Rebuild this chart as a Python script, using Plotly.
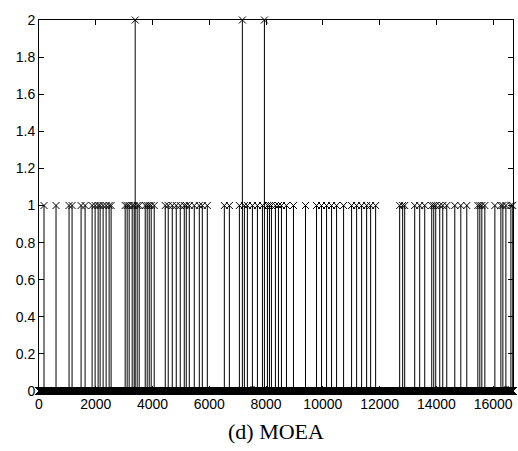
import numpy as np
import plotly.graph_objects as go

# Series length (number of samples)
n_samples = 16700

# Sample indices whose value is 1
ones_idx = [176, 600, 1059, 1165, 1483, 1624, 1871, 1977, 2083, 2153, 2259, 2365,
            2471, 2541, 3036, 3106, 3177, 3283, 3353, 3459, 3530, 3742, 3812, 3883,
            3953, 4059, 4448, 4553, 4695, 4836, 4977, 5118, 5189, 5295, 5471, 5648,
            5754, 5930, 6530, 6707, 7060, 7236, 7342, 7519, 7695, 7872, 8048, 8119,
            8189, 8330, 8436, 8542, 8719, 8966, 9389, 9778, 9954, 10131, 10307,
            10484, 10731, 11013, 11190, 11366, 11543, 11684, 11860, 12707, 12813,
            12884, 13237, 13413, 13590, 13837, 13907, 13978, 14119, 14225, 14366,
            14649, 14861, 15072, 15461, 15531, 15602, 15708, 16061, 16273, 16343,
            16449, 16626, 16690]
# Sample indices whose value is 2
twos_idx = [3389, 7166, 7942]

x_ticks = [0, 2000, 4000, 6000, 8000, 10000, 12000, 14000, 16000]
y_ticks = [0, 0.2, 0.4, 0.6, 0.8, 1, 1.2, 1.4, 1.6, 1.8, 2]
title_text = "(d) MOEA"

x = np.arange(1, n_samples + 1)
y = np.zeros(n_samples)
y[np.array(ones_idx) - 1] = 1
y[np.array(twos_idx) - 1] = 2

nz = np.nonzero(y)[0]
sx, sy = [], []
for i in nz:
    sx += [x[i], x[i], None]
    sy += [0, y[i], None]

fig = go.Figure()
fig.add_trace(go.Scatter(x=sx, y=sy, mode="lines",
                         line=dict(color="black", width=1),
                         hoverinfo="skip", showlegend=False))
fig.add_trace(go.Scatter(x=x, y=y, mode="markers",
                         marker=dict(symbol="x-thin", size=7,
                                     line=dict(color="black", width=1)),
                         cliponaxis=False, showlegend=False))

axis_common = dict(showline=True, linecolor="black", linewidth=1, mirror="ticks",
                   ticks="inside", ticklen=5, tickcolor="black", showgrid=False,
                   zeroline=False,
                   tickfont=dict(family="Liberation Sans, Arial", size=14, color="black"))
fig.update_xaxes(range=[0, n_samples], tickvals=x_ticks,
                 ticktext=[str(v) for v in x_ticks], **axis_common)
fig.update_yaxes(range=[0, 2], tickvals=y_ticks,
                 ticktext=[("%g" % v) for v in y_ticks], **axis_common)

fig.add_annotation(text=title_text, xref="paper", yref="paper", x=0.5, y=-0.11,
                   yanchor="middle", showarrow=False,
                   font=dict(family="Liberation Serif, DejaVu Serif", size=22, color="black"))

fig.update_layout(width=518, height=451, margin=dict(l=39, r=5, t=20, b=60),
                  plot_bgcolor="white", paper_bgcolor="white")

fig.write_html("out.html")
